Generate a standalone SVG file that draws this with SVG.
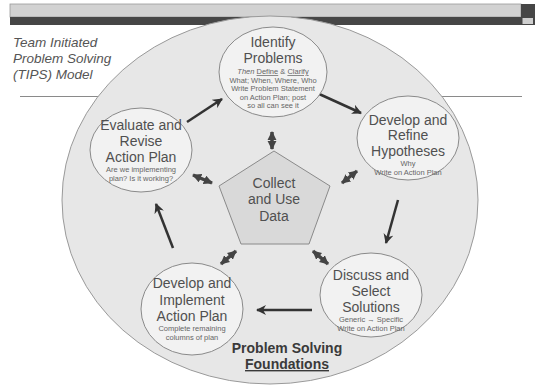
<svg xmlns="http://www.w3.org/2000/svg" width="535" height="388" viewBox="0 0 535 388">
<defs>
<style>
.big{font-family:"Liberation Sans",Arial,sans-serif;font-size:14px;fill:#505050;text-anchor:middle}
.sm{font-family:"Liberation Sans",Arial,sans-serif;font-size:7.5px;fill:#666;text-anchor:middle}
.node{fill:#f2f2f2;stroke:#8a8a8a;stroke-width:1}
.arr{stroke:#333;stroke-width:2.5;fill:none;marker-end:url(#ah)}
.dbl{stroke:#444;stroke-width:3.5;fill:none;marker-start:url(#dh);marker-end:url(#dh)}
</style>
<marker id="ah" viewBox="0 0 10 10" refX="9" refY="5" markerWidth="4" markerHeight="4" orient="auto" markerUnits="strokeWidth">
<path d="M0,0 L10,5 L0,10 L3,5 z" fill="#333"/>
</marker>
<marker id="dh" viewBox="0 0 10 10" refX="9" refY="5" markerWidth="2.6" markerHeight="2.6" orient="auto-start-reverse" markerUnits="strokeWidth">
<path d="M0,0 L10,5 L0,10 z" fill="#444"/>
</marker>
</defs>
<rect width="535" height="388" fill="#fff"/>
<g id="header">
<rect x="10" y="4" width="511" height="13" fill="#d2d2d2" stroke="#9a9a9a" stroke-width="0.8"/>
<rect x="10" y="17" width="511" height="8" fill="#464646"/>
<rect x="521" y="4" width="14" height="21" fill="#464646"/>
<rect x="522.5" y="18" width="10.5" height="6" fill="#cfcfcf"/>
</g>
<line x1="20" y1="96.5" x2="522" y2="96.5" stroke="#8a8a8a" stroke-width="1"/>
<g id="title" font-family="Liberation Sans,Arial,sans-serif" font-size="13.5" font-style="italic" fill="#555">
<text x="13" y="47">Team Initiated</text>
<text x="13" y="63">Problem Solving</text>
<text x="13" y="79">(TIPS) Model</text>
</g>
<g id="foundation">
<ellipse cx="270" cy="200" rx="208" ry="184" fill="#e7e7e7" stroke="#9a9a9a" stroke-width="1"/>
<text x="287" y="353" font-family="Liberation Sans,Arial,sans-serif" font-size="14" font-weight="bold" fill="#3a3a3a" text-anchor="middle">Problem Solving</text>
<text x="287" y="369" font-family="Liberation Sans,Arial,sans-serif" font-size="14" font-weight="bold" fill="#3a3a3a" text-anchor="middle" text-decoration="underline">Foundations</text>
</g>
<g id="connectors">
<line class="arr" x1="187" y1="122" x2="222" y2="99"/>
<line class="arr" x1="317" y1="93" x2="361" y2="113"/>
<line class="arr" x1="398" y1="200" x2="386" y2="243"/>
<line class="arr" x1="312" y1="310" x2="257" y2="310"/>
<line class="arr" x1="173" y1="248" x2="156" y2="204"/>
<line class="dbl" x1="272" y1="132" x2="272" y2="149"/>
<line class="dbl" x1="193" y1="175" x2="212" y2="183"/>
<line class="dbl" x1="342" y1="183" x2="357" y2="171"/>
<line class="dbl" x1="221" y1="264" x2="236" y2="251"/>
<line class="dbl" x1="313" y1="251" x2="328" y2="264"/>
</g>
<g id="collect">
<polygon points="274,151 330,186 309,244 241,244 219,186" fill="#d9d9d9" stroke="#8a8a8a" stroke-width="1"/>
<text class="big" x="274" y="188">Collect</text>
<text class="big" x="274" y="204">and Use</text>
<text class="big" x="274" y="221">Data</text>
</g>
<g id="identify">
<ellipse class="node" cx="273" cy="72" rx="54" ry="45"/>
<text class="big" x="273" y="47">Identify</text>
<text class="big" x="273" y="63">Problems</text>
<text class="sm" x="273" y="74"><tspan font-style="italic">Then</tspan> <tspan text-decoration="underline">Define</tspan> &amp; <tspan text-decoration="underline">Clarify</tspan></text>
<text class="sm" x="273" y="83">What; When, Where, Who</text>
<text class="sm" x="273" y="91">Write Problem Statement</text>
<text class="sm" x="273" y="99.5">on Action Plan; post</text>
<text class="sm" x="273" y="108">so all can see it</text>
</g>
<g id="refine">
<ellipse class="node" cx="408" cy="138" rx="51" ry="42"/>
<text class="big" x="408" y="125">Develop and</text>
<text class="big" x="408" y="140">Refine</text>
<text class="big" x="408" y="156">Hypotheses</text>
<text class="sm" x="408" y="166">Why</text>
<text class="sm" x="408" y="175">Write on Action Plan</text>
</g>
<g id="discuss">
<ellipse class="node" cx="371" cy="295" rx="51" ry="42"/>
<text class="big" x="371" y="280">Discuss and</text>
<text class="big" x="371" y="296">Select</text>
<text class="big" x="371" y="312">Solutions</text>
<text class="sm" x="371" y="322">Generic → Specific</text>
<text class="sm" x="371" y="331">Write on Action Plan</text>
</g>
<g id="implement">
<ellipse class="node" cx="192" cy="309" rx="51" ry="46"/>
<text class="big" x="192" y="288">Develop and</text>
<text class="big" x="192" y="305">Implement</text>
<text class="big" x="192" y="321">Action Plan</text>
<text class="sm" x="192" y="331">Complete remaining</text>
<text class="sm" x="192" y="340">columns of plan</text>
</g>
<g id="evaluate">
<ellipse class="node" cx="141" cy="150" rx="51" ry="42"/>
<text class="big" x="141" y="130">Evaluate and</text>
<text class="big" x="141" y="146">Revise</text>
<text class="big" x="141" y="162">Action Plan</text>
<text class="sm" x="141" y="172">Are we implementing</text>
<text class="sm" x="141" y="181">plan? Is it working?</text>
</g>
</svg>
